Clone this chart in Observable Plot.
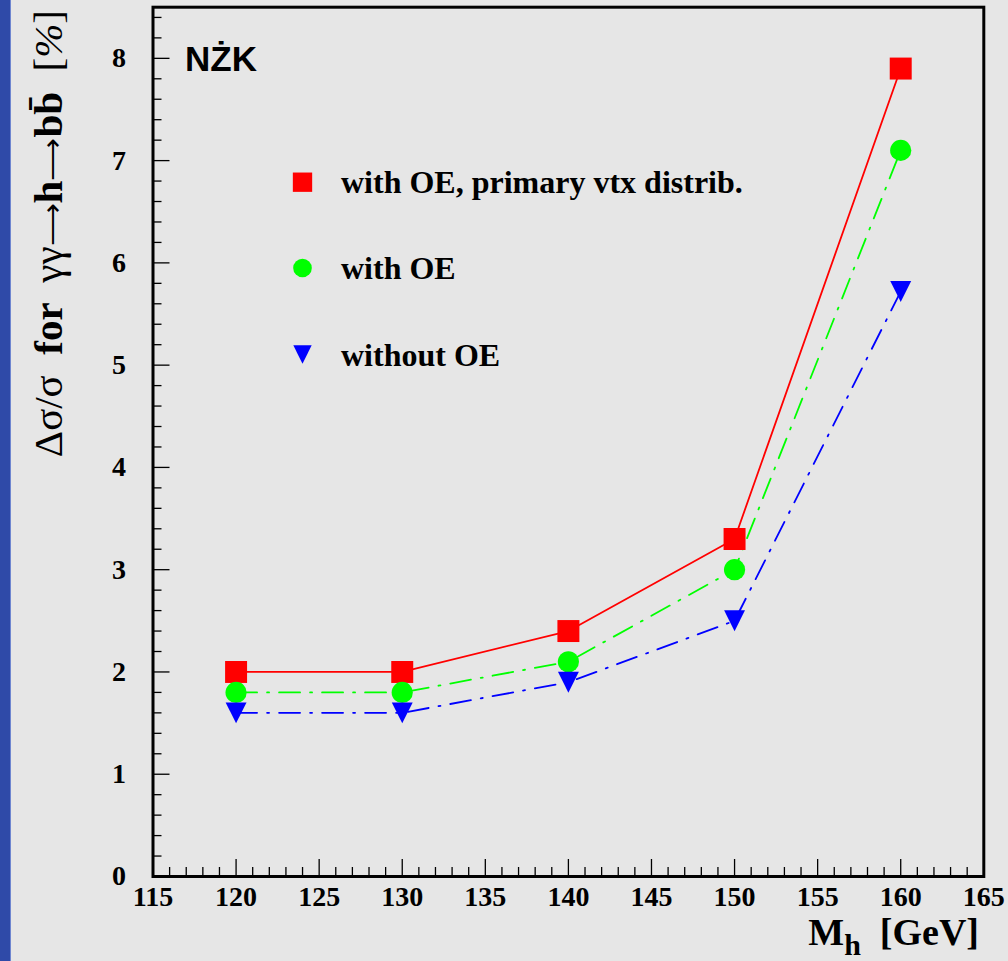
<!DOCTYPE html>
<html><head><meta charset="utf-8">
<script src="https://cdn.jsdelivr.net/npm/d3@7"></script>
<script src="https://cdn.jsdelivr.net/npm/@observablehq/plot@0.6"></script>
<style>
html,body{margin:0;padding:0;background:#e6e6e6;}
#wrap{position:relative;width:1008px;height:961px;overflow:hidden;}
#wrap svg{position:absolute;left:0;top:0;}
#strip{position:absolute;left:0;top:0;width:10px;height:961px;background:#2f4aa8;z-index:2;border-right:1px solid #6f86d0;}
</style></head><body><div id="wrap"></div>
<script>
// ---- data ----
const masses = [120, 130, 140, 150, 160];
const withOEPrimary = [2.0, 2.0, 2.4, 3.3, 7.9];
const withOE = [1.8, 1.8, 2.1, 3.0, 7.1];
const withoutOE = [1.6, 1.6, 1.9, 2.5, 5.72];
const seriesNames = ["with OE, primary vtx distrib.", "with OE", "without OE"];
const seriesColors = ["#ff0000", "#00ff00", "#0000ff"];
const xTickLabels = [115, 120, 125, 130, 135, 140, 145, 150, 155, 160, 165];
const yTickLabels = [0, 1, 2, 3, 4, 5, 6, 7, 8];
const xMinorTicks = d3.range(115, 166).filter(v => v % 5 !== 0);
const yMinorTicks = d3.range(0, 43).filter(i => i % 5 !== 0).map(i => i / 5);

// ---- build table ----
const seriesValues = [withOEPrimary, withOE, withoutOE];
const rows = seriesValues.flatMap((vals, s) => masses.map((m, i) => ({series: seriesNames[s], mass: m, value: vals[i]})));

const triangleDown = {
  draw(ctx, size) {
    const a = Math.sqrt(size) / 2;
    ctx.moveTo(-a, -a);
    ctx.lineTo(a, -a);
    ctx.lineTo(0, a);
    ctx.closePath();
  }
};
const squareSym = {
  draw(ctx, size) {
    const a = Math.sqrt(size) / 2;
    ctx.rect(-a, -a, 2 * a, 2 * a);
  }
};
const symbols = [squareSym, "circle", triangleDown];
const radii = [12.4, 10.6, 11.8];
const dashes = [null, "21,10,2,10", "21,10,2,10"];

const W = 1008, H = 961;
const mL = 152.5, mR = 24.7, mT = 6.7, mB = 85;
const pxPerY = (H - mT - mB) / 8.5;
const pxPerX = (W - mL - mR) / 50;

const serif = "'Liberation Serif', 'Times New Roman', serif";
const marks = [];
seriesNames.forEach((name, s) => {
  marks.push(Plot.line(rows.filter(r => r.series === name), {
    x: "mass", y: "value", stroke: seriesColors[s], strokeWidth: 1.8,
    strokeDasharray: dashes[s] || undefined
  }));
});
seriesNames.forEach((name, s) => {
  marks.push(Plot.dot(rows.filter(r => r.series === name), {
    x: "mass", y: "value", symbol: () => symbols[s], r: radii[s], fill: seriesColors[s], stroke: "none"
  }));
});
// inner ticks
marks.push(Plot.ruleX(xMinorTicks, {x: d => d, y1: 0, y2: 9 / pxPerY, stroke: "black", strokeWidth: 1.3}));
marks.push(Plot.ruleX(xTickLabels, {x: d => d, y1: 0, y2: 17 / pxPerY, stroke: "black", strokeWidth: 1.3}));
marks.push(Plot.ruleY(yMinorTicks, {y: d => d, x1: 115, x2: 115 + 9 / pxPerX, stroke: "black", strokeWidth: 1.3}));
marks.push(Plot.ruleY(yTickLabels, {y: d => d, x1: 115, x2: 115 + 17 / pxPerX, stroke: "black", strokeWidth: 1.3}));
marks.push(Plot.frame({stroke: "black", strokeWidth: 3}));
marks.push(Plot.axisX({ticks: xTickLabels, tickSize: 0, tickPadding: 10, fontSize: 28, fontWeight: "bold", fontFamily: serif, label: null, tickFormat: d => String(d)}));
marks.push(Plot.axisY({ticks: yTickLabels, tickSize: 0, tickPadding: 27, fontSize: 28, fontWeight: "bold", fontFamily: serif, label: null, tickFormat: d => String(d)}));
// label NZK
marks.push(Plot.text(["NŻK"], {frameAnchor: "top-left", dx: 32, dy: 64, text: d => d, textAnchor: "start", lineAnchor: "bottom",
  fontFamily: "'Liberation Sans', Arial, sans-serif", fontWeight: "bold", fontSize: 35, fill: "black"}));
// legend
const legendMarkerY = [181.7, 267.5, 354];
const legendTextY = [192, 278.5, 365];
seriesNames.forEach((name, s) => {
  marks.push(Plot.dot([name], {frameAnchor: "top-left", dx: 302 - mL, dy: legendMarkerY[s] - mT,
    symbol: () => symbols[s], r: radii[s] * 0.88, fill: seriesColors[s], stroke: "none"}));
  marks.push(Plot.text([name], {frameAnchor: "top-left", dx: 340.5 - mL, dy: legendTextY[s] - mT, text: d => d,
    textAnchor: "start", lineAnchor: "bottom", fontFamily: serif, fontWeight: "bold", fontSize: 32, fill: "black"}));
});

const svg = Plot.plot({
  width: W, height: H,
  marginLeft: mL, marginRight: mR, marginTop: mT, marginBottom: mB,
  x: {domain: [115, 165]},
  y: {domain: [0, 8.5]},
  style: {background: "#e6e6e6", fontFamily: serif, fontWeight: "bold", fontSize: "28px", color: "black", overflow: "visible"},
  marks
});
const wrap = document.getElementById("wrap");
wrap.appendChild(svg);
const strip = document.createElement("div");
strip.id = "strip";
wrap.appendChild(strip);

// axis titles
const s = d3.select(svg);
const xt = s.append("text")
  .attr("x", 979).attr("y", 945).attr("text-anchor", "end")
  .attr("font-family", serif).attr("font-weight", "bold").attr("font-size", 38).attr("fill", "black")
  .style("white-space", "pre");
xt.append("tspan").text("M");
xt.append("tspan").attr("dy", 10).attr("font-size", 30).text("h");
xt.append("tspan").attr("dy", -10).text("  [GeV]");

const yt = s.append("text")
  .attr("transform", "translate(62,10) rotate(-90)").attr("text-anchor", "end")
  .attr("font-family", serif).attr("font-size", 41).attr("fill", "black")
  .style("white-space", "pre");
yt.append("tspan").attr("font-weight", "normal").text("Δσ/σ");
yt.append("tspan").attr("font-weight", "bold").text("  for  ");
yt.append("tspan").attr("font-weight", "normal").text("γγ");
yt.append("tspan").attr("font-weight", "normal").attr("font-size", 30).text("⟶");
yt.append("tspan").attr("font-weight", "bold").text("h");
yt.append("tspan").attr("font-weight", "normal").attr("font-size", 30).text("⟶");
yt.append("tspan").attr("font-weight", "bold").text("bb\u0304");
yt.append("tspan").attr("font-weight", "normal").text("  [");
yt.append("tspan").attr("font-weight", "normal").attr("font-style", "italic").text("%");
yt.append("tspan").attr("font-weight", "normal").text("]");
</script></body></html>
